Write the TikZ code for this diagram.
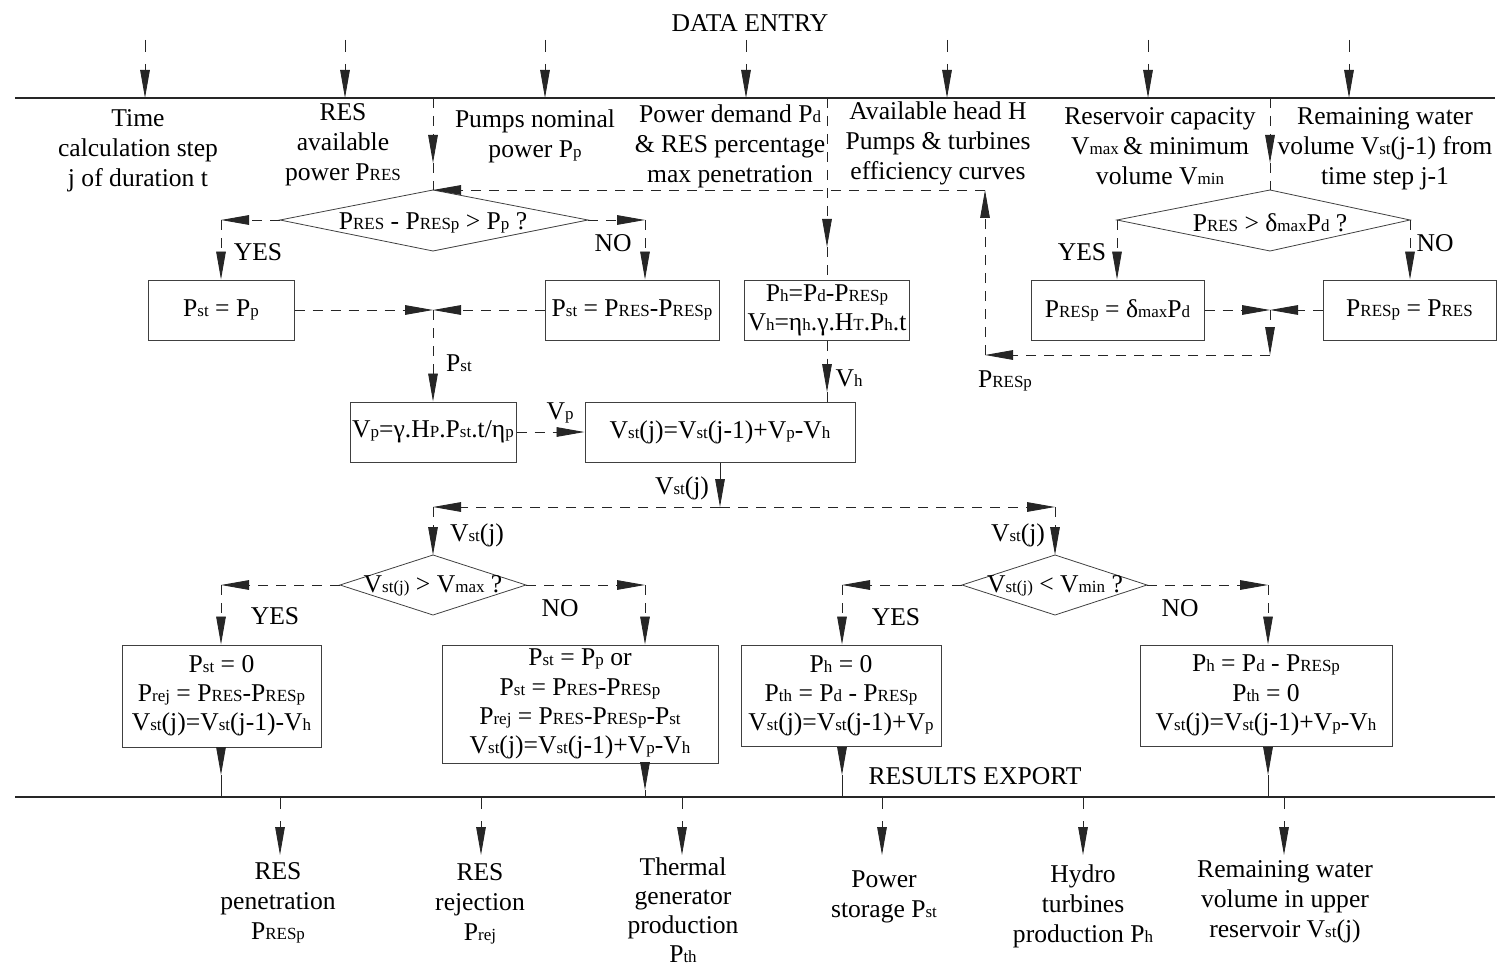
\documentclass[tikz,border=0pt]{standalone}
\usepackage{fontspec}
\setmainfont{Liberation Serif}
\usetikzlibrary{arrows.meta}
\newcommand{\sbs}[1]{{\fontsize{8.5}{8.5}\selectfont #1}}
\begin{document}
\begin{tikzpicture}[x=0.5pt,y=-0.5pt,
  font=\fontsize{12.8}{15}\selectfont,
  lbl/.style={align=center, inner sep=0pt, yshift=-1.5pt},
  box/.style={draw=black!75, line width=0.5pt, align=center, inner sep=0pt, font=\fontsize{12.8}{14.6}\selectfont},
  dia/.style={draw=black!75, line width=0.4pt},
  dsh/.style={line width=0.45pt, draw=black!85, dash pattern=on 5pt off 4pt},
  io/.style={line width=0.45pt, draw=black!85, dash pattern=on 6pt off 6pt},
  sol/.style={line width=0.45pt, draw=black!85},
  arr/.style={-{Triangle[length=14pt,width=4.8pt]}},
  main/.style={line width=1pt, draw=black!85}
]
\useasboundingbox (0,0) rectangle (1497,968);

% ---------- top and bottom bars ----------
\node[lbl] (title) at (750,20) {DATA ENTRY};
\coordinate (tl) at (15,98); \coordinate (tr) at (1495,98);
\coordinate (bl) at (15,797); \coordinate (br) at (1495,797);
\draw[main] (tl) -- (tr);
\draw[main] (bl) -- (br);

% input arrows
\foreach \x [count=\i] in {145,345,545,746,947,1148,1349}{
  \coordinate (in\i) at (\x,40);
  \coordinate (it\i) at (\x,98);
  \draw[io,arr] (in\i) -- (it\i);
}
% output arrows
\foreach \x [count=\i] in {280,481,682,882,1083,1284}{
  \coordinate (ob\i) at (\x,797);
  \coordinate (oe\i) at (\x,855);
  \draw[io,arr] (ob\i) -- (oe\i);
}

% ---------- input texts ----------
\node[lbl] (t1) at (138,148) {Time\\calculation step\\j of duration t};
\node[lbl] (t2) at (343,142) {RES\\available\\power P\sbs{RES}};
\node[lbl] (t3) at (535,133) {Pumps nominal\\power P\sbs{p}};
\node[lbl] (t4) at (730,143) {Power demand P\sbs{d}\\\& RES percentage\\max penetration};
\node[lbl] (t5) at (938,140) {Available head H\\Pumps \& turbines\\efficiency curves};
\node[lbl] (t6) at (1160,143) {Reservoir capacity\\V\sbs{max}\,\& minimum\\volume V\sbs{min}};
\node[lbl] (t7) at (1385,146) {Remaining water\\volume V\sbs{st}(j-1) from\\time step j-1};

% ---------- output texts ----------
\node[lbl] (o1) at (278,900) {RES\\penetration\\P\sbs{RESp}};
\node[lbl] (o2) at (480,901) {RES\\rejection\\P\sbs{rej}};
\node[lbl, font=\fontsize{12.8}{14.4}\selectfont] (o3) at (683,907) {Thermal\\generator\\production\\P\sbs{th}};
\node[lbl] (o4) at (884,894) {Power\\storage P\sbs{st}};
\node[lbl] (o5) at (1083,903) {Hydro\\turbines\\production P\sbs{h}};
\node[lbl] (o6) at (1285,899) {Remaining water\\volume in upper\\reservoir V\sbs{st}(j)};
\node[lbl] (rexp) at (975,773) {RESULTS EXPORT};

% ---------- diamonds ----------
\coordinate (d1n) at (433,190); \coordinate (d1e) at (588,220);
\coordinate (d1s) at (433,251); \coordinate (d1w) at (280,220);
\draw[dia] (d1n) -- (d1e) -- (d1s) -- (d1w) -- cycle;
\node[lbl] (d1) at (433,220) {P\sbs{RES} - P\sbs{RESp} > P\sbs{p} ?};

\coordinate (d4n) at (1270,190); \coordinate (d4e) at (1410,220);
\coordinate (d4s) at (1270,251); \coordinate (d4w) at (1117,220);
\draw[dia] (d4n) -- (d4e) -- (d4s) -- (d4w) -- cycle;
\node[lbl] (d4) at (1270,220) {P\sbs{RES} > δ\sbs{max}P\sbs{d} ?};

\coordinate (d2n) at (433,555); \coordinate (d2e) at (526,585);
\coordinate (d2s) at (433,615); \coordinate (d2w) at (340,585);
\draw[dia] (d2n) -- (d2e) -- (d2s) -- (d2w) -- cycle;
\node[lbl] (d2) at (433,583) {V\sbs{st(j)} > V\sbs{max} ?};

\coordinate (d3n) at (1055,555); \coordinate (d3e) at (1147,585);
\coordinate (d3s) at (1055,615); \coordinate (d3w) at (962,585);
\draw[dia] (d3n) -- (d3e) -- (d3s) -- (d3w) -- cycle;
\node[lbl] (d3) at (1055,583) {V\sbs{st(j)} < V\sbs{min} ?};

% ---------- boxes ----------
\node[box, minimum width=73pt, minimum height=30pt] (b1) at (221,310) {P\sbs{st} = P\sbs{p}};
\node[box, minimum width=87pt, minimum height=30pt] (b2) at (632,310) {P\sbs{st} = P\sbs{RES}-P\sbs{RESp}};
\node[box, minimum width=82.5pt, minimum height=30pt] (bh) at (827,310) {P\sbs{h}=P\sbs{d}-P\sbs{RESp}\\V\sbs{h}=η\sbs{h}.γ.H\sbs{T}.P\sbs{h}.t};
\node[box, minimum width=86.5pt, minimum height=30pt] (b3) at (1117.5,310) {P\sbs{RESp} = δ\sbs{max}P\sbs{d}};
\node[box, minimum width=86.5pt, minimum height=30pt] (b4) at (1409.5,310) {P\sbs{RESp} = P\sbs{RES}};
\node[box, minimum width=83pt, minimum height=30pt] (bvp) at (433,432) {V\sbs{p}=γ.H\sbs{P}.P\sbs{st}.t/η\sbs{p}};
\node[box, minimum width=135pt, minimum height=30pt] (bvst) at (720,432) {V\sbs{st}(j)=V\sbs{st}(j-1)+V\sbs{p}-V\sbs{h}};
\node[box, minimum width=99.5pt, minimum height=51pt] (b5) at (221.5,696) {P\sbs{st} = 0\\P\sbs{rej} = P\sbs{RES}-P\sbs{RESp}\\V\sbs{st}(j)=V\sbs{st}(j-1)-V\sbs{h}};
\node[box, minimum width=138pt, minimum height=59pt] (b6) at (580,704) {P\sbs{st} = P\sbs{p} or\\P\sbs{st} = P\sbs{RES}-P\sbs{RESp}\\P\sbs{rej} = P\sbs{RES}-P\sbs{RESp}-P\sbs{st}\\V\sbs{st}(j)=V\sbs{st}(j-1)+V\sbs{p}-V\sbs{h}};
\node[box, minimum width=100pt, minimum height=50.5pt] (b7) at (841,695.5) {P\sbs{h} = 0\\P\sbs{th} = P\sbs{d} - P\sbs{RESp}\\V\sbs{st}(j)=V\sbs{st}(j-1)+V\sbs{p}};
\node[box, minimum width=126pt, minimum height=50.5pt] (b8) at (1266,695.5) {P\sbs{h} = P\sbs{d} - P\sbs{RESp}\\P\sbs{th} = 0\\V\sbs{st}(j)=V\sbs{st}(j-1)+V\sbs{p}-V\sbs{h}};

% ---------- labels ----------
\node[lbl] (y1) at (258,249) {YES};
\node[lbl] (n1) at (613,240) {NO};
\node[lbl] (y4) at (1082,249) {YES};
\node[lbl] (n4) at (1435,240) {NO};
\node[lbl] (lpst) at (459,360) {P\sbs{st}};
\node[lbl] (lvh) at (849,375) {V\sbs{h}};
\node[lbl] (lpr) at (1005,378) {P\sbs{RESp}};
\node[lbl] (lvp) at (560,410) {V\sbs{p}};
\node[lbl] (lvs) at (682,485) {V\sbs{st}(j)};
\node[lbl] (lvs2) at (477,532) {V\sbs{st}(j)};
\node[lbl] (lvs3) at (1018,532) {V\sbs{st}(j)};
\node[lbl] (y2) at (275,613) {YES};
\node[lbl] (n2) at (560,605) {NO};
\node[lbl] (y3) at (896,614) {YES};
\node[lbl] (n3) at (1180,605) {NO};

% ---------- connectors: top part ----------
\coordinate (c1a) at (433,98); \coordinate (c1b) at (433,163);
\draw[dsh,arr] (c1a) -- (c1b); \draw[dsh] (c1b) -- (d1n);
\coordinate (c2a) at (827,98); \coordinate (c2b) at (827,247);
\draw[dsh,arr] (c2a) -- (c2b); \draw[dsh] (c2b) -- (bh.north);
\coordinate (c3a) at (1270,98); \coordinate (c3b) at (1270,163);
\draw[dsh,arr] (c3a) -- (c3b); \draw[dsh] (c3b) -- (d4n);

% decision 1
\coordinate (k1) at (221,220); \coordinate (k2) at (645,220);
\draw[dsh,arr] (d1w) -- (k1); \draw[dsh,arr] (k1) -- (b1.north);
\draw[dsh,arr] (d1e) -- (k2); \draw[dsh,arr] (k2) -- (k2 |- b2.north);
\coordinate (j5) at (433,310);
\draw[dsh,arr] (b1.east) -- (j5);
\draw[dsh,arr] (b2.west) -- (j5);
\draw[dsh,arr] (j5) -- (bvp.north);

% decision 4 and feedback
\draw[dsh,arr] (d4w) -- (d4w |- b3.north);
\draw[dsh,arr] (d4e) -- (d4e |- b4.north);
\coordinate (j1) at (1270,310); \coordinate (j2) at (1270,355);
\coordinate (j3) at (985,355); \coordinate (j4) at (985,190);
\draw[dsh,arr] (b3.east) -- (j1);
\draw[dsh,arr] (b4.west) -- (j1);
\draw[dsh,arr] (j1) -- (j2);
\draw[dsh,arr] (j2) -- (j3);
\draw[dsh,arr] (j3) -- (j4);
\draw[dsh,arr] (j4) -- (d1n);

% middle
\coordinate (vh1) at (827,392);
\draw[dsh,arr] (bh.south) -- (vh1); \draw[sol] (vh1) -- (vh1 |- bvst.north);
\draw[dsh,arr] (bvp.east) -- (bvst.west);
\coordinate (j6) at (720,507); \coordinate (j7) at (433,507); \coordinate (j8) at (1055,507);
\draw[sol,arr] (bvst.south) -- (j6);
\draw[dsh,arr] (j6) -- (j7);
\draw[dsh,arr] (j6) -- (j8);
\draw[dsh,arr] (j7) -- (d2n);
\draw[dsh,arr] (j8) -- (d3n);

% decision 2
\coordinate (k3) at (221,585); \coordinate (k4) at (645,585);
\draw[dsh,arr] (d2w) -- (k3); \draw[dsh,arr] (k3) -- (k3 |- b5.north);
\draw[dsh,arr] (d2e) -- (k4); \draw[dsh,arr] (k4) -- (k4 |- b6.north);
% decision 3
\coordinate (k5) at (842,585); \coordinate (k6) at (1268,585);
\draw[dsh,arr] (d3w) -- (k5); \draw[dsh,arr] (k5) -- (k5 |- b7.north);
\draw[dsh,arr] (d3e) -- (k6); \draw[dsh,arr] (k6) -- (k6 |- b8.north);

% to results bar
\coordinate (r1) at (221,775); \coordinate (r2) at (645,790);
\coordinate (r3) at (842,775); \coordinate (r4) at (1268,775);
\draw[sol,arr] (r1 |- b5.south) -- (r1); \draw[sol] (r1) -- (r1 |- bl);
\draw[sol,arr] (r2 |- b6.south) -- (r2); \draw[sol] (r2) -- (r2 |- bl);
\draw[sol,arr] (r3 |- b7.south) -- (r3); \draw[sol] (r3) -- (r3 |- bl);
\draw[sol,arr] (r4 |- b8.south) -- (r4); \draw[sol] (r4) -- (r4 |- bl);
\end{tikzpicture}
\end{document}
